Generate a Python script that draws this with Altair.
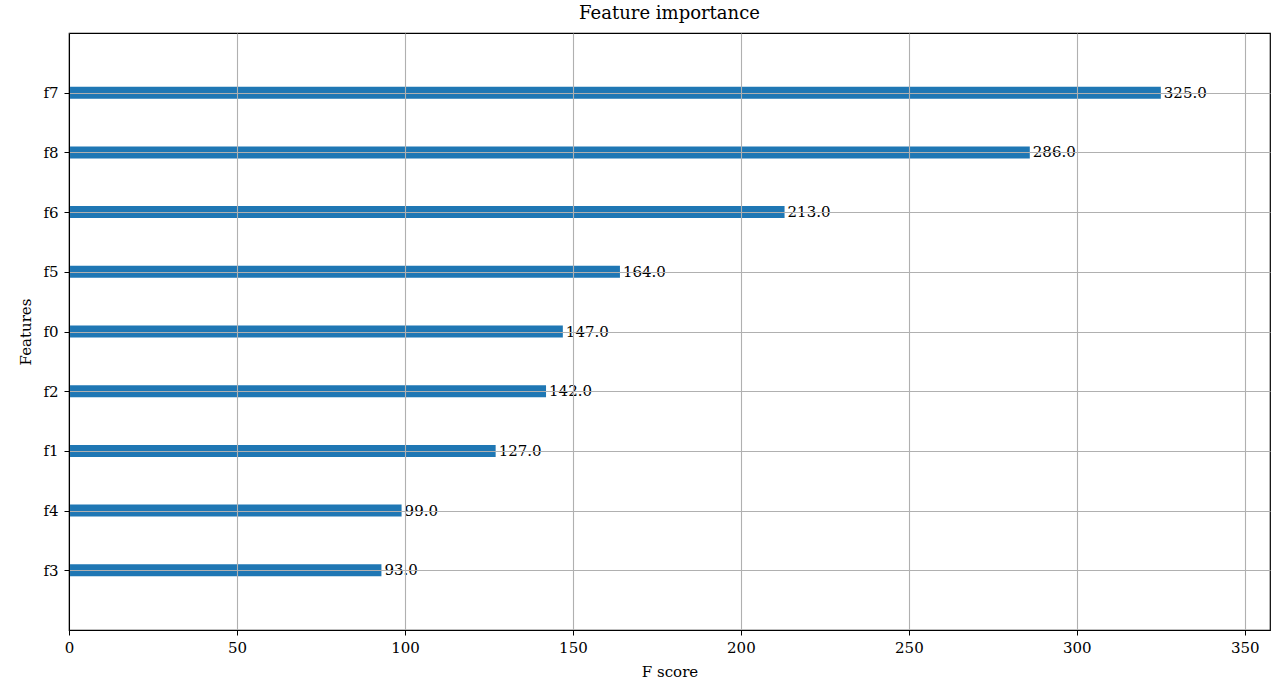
import altair as alt
import pandas as pd

# Feature importance scores (F score), listed top to bottom
features = ["f7", "f8", "f6", "f5", "f0", "f2", "f1", "f4", "f3"]
scores = [325.0, 286.0, 213.0, 164.0, 147.0, 142.0, 127.0, 99.0, 93.0]
x_ticks = [0, 50, 100, 150, 200, 250, 300, 350]

df = pd.DataFrame({"feature": features, "score": scores})
df["label"] = [f"{v:.1f}" for v in df["score"]]

FONT = "DejaVu Serif"
FS = 15

x_enc = alt.X(
    "score:Q",
    scale=alt.Scale(domain=[0, max(scores) * 1.1], nice=False, zero=True),
    axis=alt.Axis(
        title="F score",
        values=x_ticks,
        format="d",
        labelFlush=False,
        grid=True,
        gridColor="#b0b0b0",
        gridWidth=1.1,
        domainColor="black",
        tickColor="black",
        tickSize=5,
        labelPadding=5,
        titlePadding=9,
        zindex=1,
    ),
)
y_enc = alt.Y(
    "feature:N",
    sort=features,
    scale=alt.Scale(type="point", padding=1),
    axis=alt.Axis(
        title="Features",
        grid=True,
        gridColor="#b0b0b0",
        gridWidth=1.1,
        domainColor="black",
        tickColor="black",
        tickSize=5,
        labelPadding=6,
        titlePadding=9,
        zindex=1,
    ),
)

bars = alt.Chart(df).mark_bar(size=12, color="#1f77b4").encode(x=x_enc, y=y_enc)

labels = alt.Chart(df).mark_text(
    align="left", baseline="middle", dx=3, font=FONT, fontSize=FS, color="black"
).encode(x="score:Q", y=alt.Y("feature:N", sort=features), text="label:N")

chart = (
    alt.layer(bars, labels)
    .properties(
        width=1201,
        height=597,
        title=alt.TitleParams(
            "Feature importance", font=FONT, fontSize=18, fontWeight="normal",
            color="black", offset=10, anchor="middle",
        ),
        autosize=alt.AutoSizeParams(type="none"),
        padding={"left": 69, "top": 33, "right": 8, "bottom": 50},
    )
    .configure_view(stroke="black", strokeWidth=1.2)
    .configure_axis(
        labelFont=FONT, labelFontSize=FS, labelColor="black",
        titleFont=FONT, titleFontSize=FS, titleFontWeight="normal", titleColor="black",
    )
)

chart.save("out.html", embed_options={"renderer": "svg", "actions": False})
